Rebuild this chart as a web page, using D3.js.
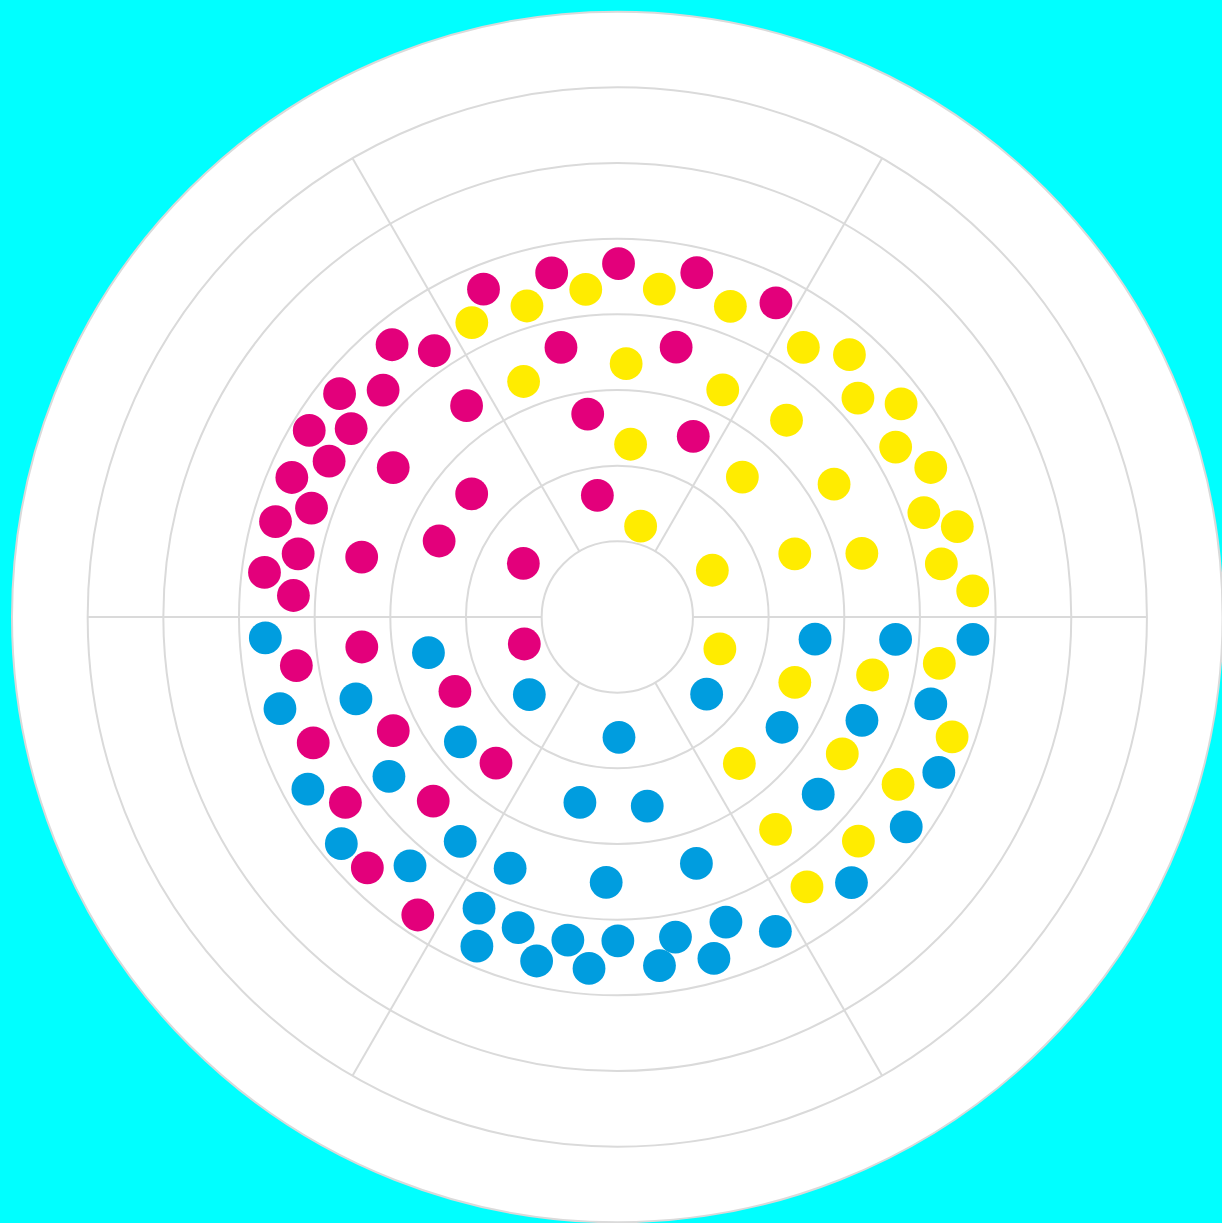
<!DOCTYPE html>
<html>
<head>
<meta charset="utf-8">
<script src="https://cdn.jsdelivr.net/npm/d3@7"></script>
<style>
  html, body { margin: 0; padding: 0; background: #00ffff; }
  svg { display: block; }
</style>
</head>
<body>
<div id="chart"></div>
<script>
// angle in degrees clockwise from north, value in ring units
var magenta = [
  [337.8, 4.68], [349.2, 4.63], [0.2, 4.67], [13.0, 4.67], [26.8, 4.65],
  [320.4, 4.67], [325.5, 4.27], [348.2, 3.64], [12.3, 3.65], [308.8, 4.71],
  [314.1, 4.31], [324.5, 3.43], [351.7, 2.71], [22.8, 2.59], [301.2, 4.76],
  [305.3, 4.31], [298.4, 4.33], [303.7, 3.56], [293.2, 4.68], [289.6, 4.29],
  [310.2, 2.52], [350.7, 1.63], [285.6, 4.69], [293.1, 2.56], [281.2, 4.30],
  [283.2, 3.47], [299.7, 1.43], [277.2, 4.70], [273.8, 4.29], [261.4, 4.29],
  [263.3, 3.40], [253.8, 1.28], [245.4, 2.36], [247.5, 4.35], [243.1, 3.32],
  [219.7, 2.51], [235.7, 4.35], [225.0, 3.44], [224.9, 4.68], [213.8, 4.74]
];

var yellow = [
  [343.8, 4.28], [354.5, 4.35], [333.7, 4.34], [338.3, 3.35], [7.3, 4.37],
  [20.0, 4.37], [2.0, 3.35], [34.6, 4.33], [41.5, 4.63], [24.9, 3.31],
  [47.7, 4.30], [53.1, 4.69], [40.7, 3.43], [4.4, 2.29], [58.6, 4.31],
  [64.5, 4.59], [41.8, 2.48], [58.5, 3.36], [71.2, 4.28], [75.1, 4.65],
  [14.4, 1.24], [63.8, 1.40], [70.4, 2.49], [75.4, 3.34], [80.7, 4.34],
  [85.8, 4.71], [107.3, 1.42], [110.2, 2.50], [102.8, 3.46], [98.2, 4.30],
  [109.7, 4.70], [140.2, 2.52], [121.3, 3.48], [120.8, 4.32], [143.3, 3.50],
  [132.9, 4.35], [144.9, 4.36]
];

var blue = [
  [266.6, 4.66], [259.3, 2.54], [254.8, 4.62], [252.6, 3.62], [228.6, 1.55],
  [231.5, 2.65], [179.2, 1.59], [240.9, 4.68], [235.1, 3.68], [191.4, 2.50],
  [230.6, 4.72], [219.8, 4.28], [215.0, 3.62], [203.1, 3.61], [182.4, 3.51],
  [205.4, 4.26], [197.7, 4.31], [203.1, 4.73], [193.2, 4.67], [188.7, 4.32],
  [184.6, 4.66], [179.9, 4.28], [130.8, 1.56], [96.4, 2.63], [94.6, 3.69],
  [93.6, 4.71], [123.8, 2.62], [112.9, 3.51], [105.5, 4.30], [115.8, 4.72],
  [131.4, 3.54], [171.0, 2.53], [126.0, 4.72], [162.2, 3.42], [138.6, 4.68],
  [160.4, 4.28], [153.3, 4.65], [169.7, 4.30], [164.2, 4.69], [173.1, 4.64]
];

var rings = [1, 2, 3, 4, 5, 6, 7, 8];
var spokeAngles = [30, 90, 150, 210, 270, 330];

var series = [
  { name: "magenta", color: "#e3007b", values: magenta },
  { name: "yellow", color: "#ffec00", values: yellow },
  { name: "blue", color: "#009ddf", values: blue }
];

var width = 1222,
    height = 1223,
    cx = 617.3,
    cy = 617,
    outer = 605.3,
    dotRadius = 16.4;

var svg = d3.select("#chart").append("svg")
    .attr("width", width)
    .attr("height", height);

svg.append("rect")
    .attr("width", width)
    .attr("height", height)
    .attr("fill", "#00ffff");

var g = svg.append("g")
    .attr("transform", "translate(" + cx + "," + cy + ")");

var r = d3.scaleLinear().domain([0, 8]).range([0, outer]);
var a = d3.scaleLinear().domain([0, 360]).range([0, 2 * Math.PI]);

function px(angle, value) { return r(value) * Math.sin(a(angle)); }
function py(angle, value) { return -r(value) * Math.cos(a(angle)); }

// white disc
g.append("circle")
    .attr("r", r(8))
    .attr("fill", "#fff");

// grid rings
g.selectAll("circle.ring")
    .data(rings)
  .enter().append("circle")
    .attr("class", "ring")
    .attr("r", function(d) { return r(d); })
    .attr("fill", "none")
    .attr("stroke", "#dadada")
    .attr("stroke-width", 2);

// spokes between the hole and ring 7
g.selectAll("line.spoke")
    .data(spokeAngles)
  .enter().append("line")
    .attr("class", "spoke")
    .attr("x1", function(d) { return px(d, 1); })
    .attr("y1", function(d) { return py(d, 1); })
    .attr("x2", function(d) { return px(d, 7); })
    .attr("y2", function(d) { return py(d, 7); })
    .attr("stroke", "#dadada")
    .attr("stroke-width", 2);

// dots
series.forEach(function(s) {
  g.append("g")
      .attr("class", s.name)
    .selectAll("circle")
      .data(s.values)
    .enter().append("circle")
      .attr("cx", function(d) { return px(d[0], d[1]); })
      .attr("cy", function(d) { return py(d[0], d[1]); })
      .attr("r", dotRadius)
      .attr("fill", s.color);
});
</script>
</body>
</html>
